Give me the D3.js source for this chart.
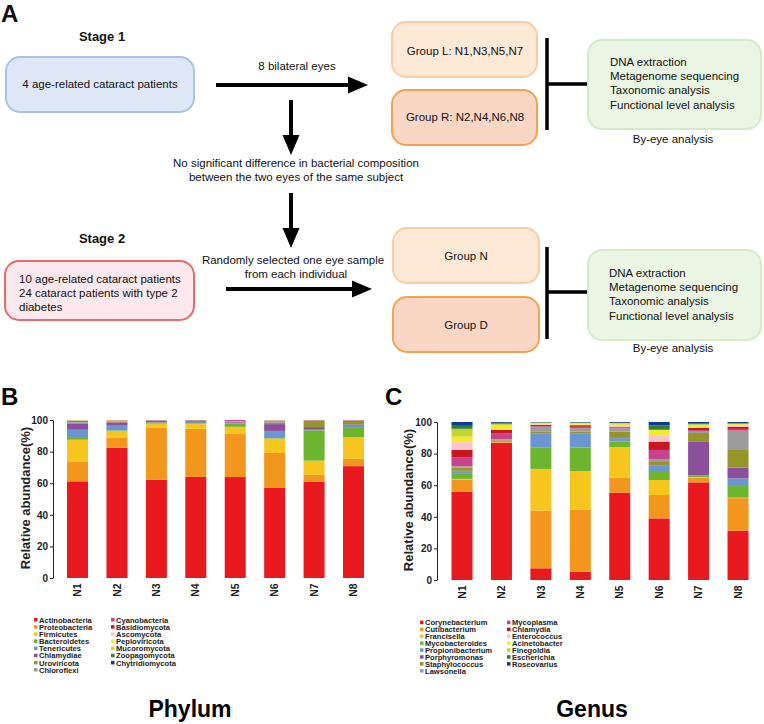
<!DOCTYPE html>
<html>
<head>
<meta charset="utf-8">
<style>
body { margin: 0; background: #fff; }
svg text { font-family: Arial, "Liberation Sans", sans-serif; }
</style>
</head>
<body>
<script src="https://cdn.jsdelivr.net/npm/d3@7"></script>
<script>

// samples on the x axis of both stacked bar charts
var samples = ["N1", "N2", "N3", "N4", "N5", "N6", "N7", "N8"];
var ticks = [0, 20, 40, 60, 80, 100];

// Phylum level (panel B)
var phylumNames = ["Actinobacteria", "Proteobacteria", "Firmicutes", "Bacteroidetes", "Tenericutes",
  "Chlamydiae", "Uroviricota", "Chloroflexi", "Cyanobacteria", "Basidiomycota", "Ascomycota",
  "Peploviricota", "Mucoromycota", "Zoopagomycota", "Chytridiomycota"];
// one row per sample, values in the order of phylumNames (%)
var phylumValues = [
  [61.2, 12.2, 14.1, 1.7, 4.6, 3.8, 0.6, 0.5, 0.4, 0.3, 0.2, 0.2, 0.1, 0.05, 0.05],
  [82.5, 6.2, 4.4, 0.3, 3.0, 2.1, 0.5, 0.4, 0.2, 0.1, 0.1, 0.1, 0.05, 0.05, 0],
  [62.2, 32.9, 2.6, 0.6, 0.3, 0.8, 0.2, 0.2, 0.1, 0.05, 0.05, 0, 0, 0, 0],
  [64.0, 30.4, 3.1, 0.3, 1.0, 0.5, 0.3, 0.2, 0.1, 0.1, 0, 0, 0, 0, 0],
  [63.9, 27.2, 4.6, 2.0, 0.6, 0.5, 0.3, 0.3, 0.6, 0, 0, 0, 0, 0, 0],
  [57.0, 22.1, 9.1, 0.3, 4.6, 4.3, 0.8, 0.9, 0.3, 0.2, 0.2, 0.1, 0.05, 0.05, 0],
  [61.0, 4.3, 9.0, 19.2, 0.8, 1.2, 4.0, 0.3, 0.1, 0.1, 0, 0, 0, 0, 0],
  [70.8, 4.6, 13.6, 6.5, 0.9, 0.8, 2.3, 0.3, 0.1, 0.1, 0, 0, 0, 0, 0]
];

// Genus level (panel C)
var genusNames = ["Corynebacterium", "Cutibacterium", "Francisella", "Mycobacteroides", "Propionibacterium",
  "Porphyromonas", "Staphylococcus", "Lawsonella", "Mycoplasma", "Chlamydia", "Enterococcus",
  "Acinetobacter", "Finegoldia", "Escherichia", "Roseovarius"];
var genusValues = [
  [55.9, 7.8, 0.3, 3.2, 1.7, 0.2, 2.1, 0.8, 5.5, 4.9, 4.8, 3.5, 5.0, 1.9, 2.4],
  [86.9, 0.3, 0.2, 0.5, 0.3, 0.0, 0.7, 0.2, 3.6, 2.4, 0.5, 2.3, 1.0, 0.6, 0.5],
  [7.4, 36.5, 26.4, 13.7, 8.4, 0.2, 1.2, 3.2, 0.5, 0.7, 0.3, 0.8, 0.3, 0.2, 0.2],
  [5.3, 39.4, 24.3, 14.8, 9.0, 0.2, 1.0, 2.0, 1.0, 1.0, 0.3, 0.9, 0.3, 0.2, 0.3],
  [55.3, 9.5, 19.2, 3.6, 2.1, 0.2, 4.0, 2.1, 0.6, 0.4, 0.5, 1.5, 0.3, 0.2, 0.5],
  [39.0, 14.8, 9.5, 5.7, 3.6, 0.2, 1.9, 1.9, 5.7, 5.3, 3.8, 3.5, 0.2, 2.8, 2.1],
  [61.8, 2.8, 0.6, 0.6, 0.5, 21.1, 5.6, 1.3, 0.6, 1.3, 0.5, 1.5, 0.4, 0.4, 1.0],
  [31.2, 20.6, 0.3, 8.0, 4.2, 6.8, 11.2, 12.2, 1.1, 1.4, 0.9, 0.8, 0.3, 0.4, 0.6]
];

// shared palette, same order for both charts
var palette = ["#E8191F", "#F3961E", "#F6C61F", "#6DB52F", "#6B96D2", "#8C4F9C", "#96952A", "#9C9C9C",
  "#C8438F", "#C8171E", "#F8C5CC", "#F2EA2B", "#C4D52F", "#2F7E3B", "#0B3A97"];

var svg = d3.select("body").append("svg")
    .attr("width", 764)
    .attr("height", 724);

// ---------- panel A : flow chart ----------
function box(x, y, w, h, fill, stroke) {
  svg.append("rect")
    .attr("x", x).attr("y", y).attr("width", w).attr("height", h)
    .attr("rx", 14).attr("ry", 14)
    .attr("fill", fill).attr("stroke", stroke).attr("stroke-width", 2);
}

function label(x, y, txt, opt) {
  opt = opt || {};
  svg.append("text")
    .attr("x", x).attr("y", y)
    .attr("text-anchor", opt.anchor || "middle")
    .attr("font-size", opt.size || 11.5)
    .attr("font-weight", opt.bold ? "bold" : "normal")
    .attr("fill", "#111")
    .text(txt);
}

function arrow(x1, y1, x2, y2) {
  var horiz = y1 === y2;
  var hl = 20, hw = 8.5;
  if (horiz) {
    svg.append("line").attr("x1", x1).attr("y1", y1).attr("x2", x2 - hl + 2).attr("y2", y2)
      .attr("stroke", "#000").attr("stroke-width", 4);
    svg.append("path").attr("d", `M${x2},${y2}L${x2 - hl},${y2 - hw}L${x2 - hl},${y2 + hw}Z`).attr("fill", "#000");
  } else {
    svg.append("line").attr("x1", x1).attr("y1", y1).attr("x2", x2).attr("y2", y2 - hl + 2)
      .attr("stroke", "#000").attr("stroke-width", 4);
    svg.append("path").attr("d", `M${x2},${y2}L${x2 - hw},${y2 - hl}L${x2 + hw},${y2 - hl}Z`).attr("fill", "#000");
  }
}

function bracket(x, y1, y2, ym, x2) {
  svg.append("line").attr("x1", x).attr("x2", x).attr("y1", y1).attr("y2", y2)
    .attr("stroke", "#000").attr("stroke-width", 3.5);
  svg.append("line").attr("x1", x).attr("x2", x2).attr("y1", ym).attr("y2", ym)
    .attr("stroke", "#000").attr("stroke-width", 3.5);
}

label(1, 22, "A", {anchor: "start", size: 24, bold: true});

// stage 1
label(102, 41, "Stage 1", {size: 13, bold: true});
box(6, 57, 188, 55, "#DEE7F6", "#A9C3E6");
label(100, 88, "4 age-related cataract patients");
arrow(216, 85, 368, 85);
label(297, 70, "8 bilateral eyes");

box(392, 22, 145, 55, "#FDE9D5", "#F9CCA8");
label(465, 55, "Group L: N1,N3,N5,N7");
box(392, 90, 145, 55, "#FAD7C5", "#F4A24F");
label(465, 121, "Group R: N2,N4,N6,N8");
bracket(547, 38, 130, 84, 588);

var analysis = ["DNA extraction", "Metagenome sequencing", "Taxonomic analysis", "Functional level analysis"];
box(588, 40, 173, 89, "#EAF5E3", "#D3EBC7");
analysis.forEach(function(t, i) { label(610, 66 + i * 14.2, t, {anchor: "start"}); });
label(673, 143, "By-eye analysis");

arrow(291, 100, 291, 155);
label(296, 167, "No significant difference in bacterial composition");
label(296, 181, "between the two eyes of the same subject");
arrow(291, 193, 291, 248);

// stage 2
label(102, 243, "Stage 2", {size: 13, bold: true});
box(5, 261, 189, 59, "#FDE8EE", "#EA6A6C");
["10 age-related cataract patients", "24 cataract patients with type 2", "diabetes"].forEach(function(t, i) {
  label(19, 283 + i * 14, t, {anchor: "start"});
});
label(293, 264, "Randomly selected one eye sample");
label(296, 278, "from each individual");
arrow(226, 289, 372, 289);

box(393, 228, 146, 55, "#FDE9D5", "#F9CCA8");
label(466, 260, "Group N");
box(393, 297, 146, 55, "#FAD7C5", "#F4A24F");
label(466, 329, "Group D");
bracket(547, 247, 339, 292, 588);

box(588, 250, 173, 90, "#EAF5E3", "#D3EBC7");
analysis.forEach(function(t, i) { label(609, 277 + i * 14.2, t, {anchor: "start"}); });
label(673, 352, "By-eye analysis");

// ---------- panels B and C : stacked bars ----------
function stackedChart(cfg) {
  var g = svg.append("g");
  var rows = cfg.values.map(function(v, i) {
    var o = {sample: samples[i]};
    cfg.names.forEach(function(n, j) { o[n] = v[j]; });
    return o;
  });
  var series = d3.stack().keys(cfg.names)(rows);
  var color = d3.scaleOrdinal().domain(cfg.names).range(palette);

  var x = d3.scaleBand().domain(samples)
      .range([cfg.x0, cfg.x0 + 8 * 39.43])
      .paddingInner(0.467).paddingOuter(0.2335);
  var y = d3.scaleLinear().domain([0, 100]).range([cfg.yBottom, cfg.yBottom - 158]);

  g.selectAll("g.layer").data(series).join("g")
    .attr("class", "layer")
    .attr("fill", function(d) { return color(d.key); })
    .selectAll("rect").data(function(d) { return d; }).join("rect")
    .attr("x", function(d) { return x(d.data.sample); })
    .attr("width", x.bandwidth())
    .attr("y", function(d) { return y(Math.min(d[1], 100)); })
    .attr("height", function(d) { return Math.max(0, y(d[0]) - y(Math.min(d[1], 100))); });

  var ax = g.append("g")
    .attr("transform", "translate(" + cfg.axisX + ",0)")
    .call(d3.axisLeft(y).tickValues(ticks).tickSize(3).tickSizeOuter(0).tickPadding(2));
  ax.select(".domain").attr("stroke", "#222");
  ax.selectAll(".tick line").attr("stroke", "#222");
  ax.selectAll("text").attr("font-size", 10).attr("font-weight", "bold").attr("fill", "#222")
    .attr("font-family", "Arial, 'Liberation Sans', sans-serif");

  g.selectAll("text.xlab").data(samples).join("text")
    .attr("class", "xlab")
    .attr("transform", function(d) { return "translate(" + (x(d) + x.bandwidth() / 2) + "," + (cfg.yBottom + 12) + ") rotate(-90)"; })
    .attr("text-anchor", "middle")
    .attr("dy", "0.35em")
    .attr("font-size", 10.5).attr("font-weight", "bold").attr("fill", "#222")
    .text(function(d) { return d; });

  g.append("text")
    .attr("transform", "translate(" + cfg.ylabX + "," + (cfg.yBottom - 80) + ") rotate(-90)")
    .attr("text-anchor", "middle")
    .attr("dy", "0.35em")
    .attr("font-size", 13).attr("font-weight", "bold").attr("fill", "#222")
    .text("Relative abundance(%)");

  // legend, two columns, tightly packed like the original
  cfg.names.forEach(function(n, i) {
    var col = i < 8 ? 0 : 1;
    var row = i < 8 ? i : i - 8;
    var lx = cfg.legX[col], ly = cfg.legY + row * cfg.legStep;
    g.append("rect").attr("x", lx).attr("y", ly - 2).attr("width", 3.5).attr("height", 3.5)
      .attr("fill", color(n));
    g.append("text").attr("x", lx + 5).attr("y", ly).attr("dy", "0.35em")
      .attr("font-size", 7.6).attr("font-weight", "bold").attr("fill", "#222")
      .text(n);
  });

  g.append("text").attr("x", cfg.titleX).attr("y", 717)
    .attr("text-anchor", "middle").attr("font-size", 23).attr("font-weight", "bold")
    .text(cfg.title);
  g.append("text").attr("x", cfg.letterX).attr("y", 405)
    .attr("font-size", 24).attr("font-weight", "bold").text(cfg.letter);
}

stackedChart({names: phylumNames, values: phylumValues, x0: 57.8, yBottom: 578, axisX: 53, ylabX: 25,
  legX: [34, 111], legY: 620, legStep: 7.15, title: "Phylum", titleX: 190, letter: "B", letterX: 1});
stackedChart({names: genusNames, values: genusValues, x0: 442.3, yBottom: 580, axisX: 437, ylabX: 408,
  legX: [420, 507], legY: 622.7, legStep: 6.9, title: "Genus", titleX: 592, letter: "C", letterX: 385});

</script>
</body>
</html>
